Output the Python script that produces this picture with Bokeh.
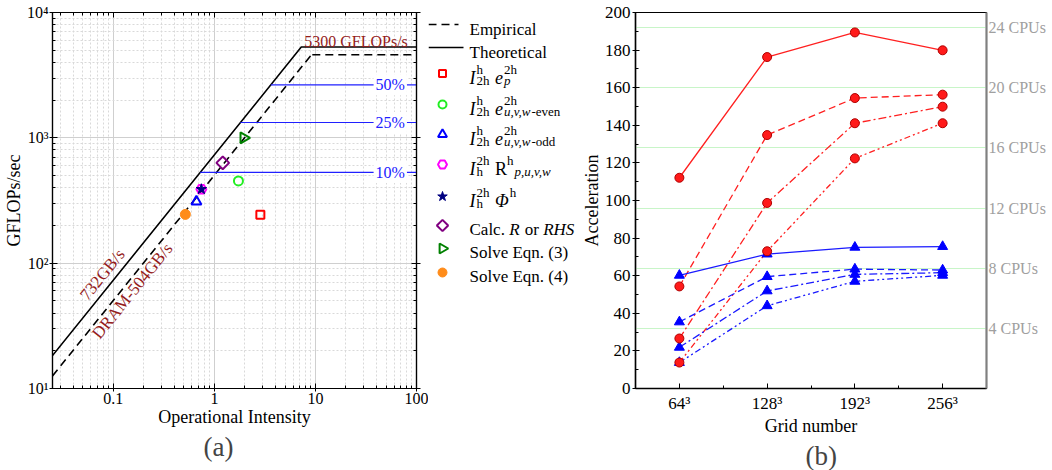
import math
from bokeh.plotting import figure
from bokeh.models import Range1d, FixedTicker, LogAxis, LinearAxis, Title, ColumnDataSource
from bokeh.layouts import row
from bokeh.embed import file_html
from bokeh.resources import INLINE
from bokeh.core.properties import value

SERIF = "Liberation Serif"
DARKRED = "#951c1c"

# ---------------- data: (a) roofline ----------------
theo_bw = 732.0        # GB/s
theo_peak = 5300.0     # GFLOPs/s
emp_bw = 504.0         # GB/s
emp_peak = 4600.0      # GFLOPs/s
oi_min, oi_max = 0.025, 100.0
frac_levels = [0.50, 0.25, 0.10]
frac_labels = ["50%", "25%", "10%"]
frac_label_x = 55.0

kernel_oi = [2.85, 1.73, 0.664, 0.743, 0.743, 1.21, 1.95, 0.516]
kernel_gflops = [243, 453, 310, 389, 389, 631, 1000, 245]
kernel_markers = ["square", "circle", "triangle", "hex", "star", "square", "triangle", "circle"]
kernel_colors = ["#ff0000", "#22ee22", "#0000ff", "#ff00ff", "#000080", "#800080", "#008000", "#ff8c1a"]
kernel_filled = [False, False, False, False, True, False, False, True]
kernel_angles = [0, 0, 0, 0, 0, math.pi / 4, -math.pi / 2, 0]
kernel_sizes = [8, 9, 10, 10, 11, 9, 11, 10]

xtick_vals = [0.1, 1, 10, 100]
xtick_text = ["0.1", "1", "10", "100"]
ytick_vals = [10, 100, 1000, 10000]
ytick_text = ["10\u00b9", "10\u00b2", "10\u00b3", "10\u2074"]

# ---------------- data: (b) acceleration ----------------
grid_labels = ["64\u00b3", "128\u00b3", "192\u00b3", "256\u00b3"]
grid_pos = [1, 2, 3, 4]
red_solid = [112.1, 176.3, 189.4, 179.9]
red_dash = [54.3, 134.8, 154.5, 156.3]
red_dashdot = [26.6, 98.7, 141.1, 149.9]
red_dashdotdot = [13.8, 73.0, 122.4, 141.1]
blue_solid = [60.2, 71.5, 75.1, 75.5]
blue_dash = [35.4, 59.5, 63.5, 63.0]
blue_dashdot = [21.9, 51.9, 60.7, 61.6]
blue_dashdotdot = [13.8, 44.0, 57.0, 60.2]
cpu_counts = [4, 8, 12, 16, 20, 24]
cpu_accel = [32, 64, 96, 128, 160, 192]
acc_ticks = list(range(0, 201, 20))

H = 470
TOP, BOT = 12, 82          # shared (row-aligned) top / bottom borders
# ================= figure (a) =================
FA_W = 428
BL, BR = 52, 12
pA = figure(width=FA_W, height=H, x_axis_type="log", y_axis_type="log",
            x_range=Range1d(oi_min, oi_max), y_range=Range1d(10, 10000),
            output_backend="svg", toolbar_location=None,
            min_border_left=BL, min_border_right=BR, min_border_top=TOP, min_border_bottom=BOT)
pA.outline_line_color = "black"
pA.outline_line_width = 1.2

def minors(lo_exp, hi_exp):
    return [m * 10 ** e for e in range(lo_exp, hi_exp) for m in range(2, 10)]

xt = FixedTicker(ticks=xtick_vals, minor_ticks=[v for v in minors(-2, 2) if v >= oi_min])
yt = FixedTicker(ticks=ytick_vals, minor_ticks=minors(1, 4))
pA.xaxis.ticker = xt
pA.yaxis.ticker = yt
pA.xaxis.major_label_overrides = {v: t for v, t in zip(xtick_vals, xtick_text)}
pA.yaxis.major_label_overrides = {v: t for v, t in zip(ytick_vals, ytick_text)}
pA.xgrid.ticker = xt
pA.ygrid.ticker = yt
for g in (pA.xgrid[0], pA.ygrid[0]):
    g.grid_line_color = "#cfcfcf"
    g.grid_line_width = 1
    g.minor_grid_line_color = "#d9d9d9"
    g.minor_grid_line_dash = "2 2"

for ax in (pA.xaxis[0], pA.yaxis[0]):
    ax.major_label_text_font = SERIF
    ax.major_label_text_font_size = "16px"
    ax.major_label_text_color = "black"
    ax.axis_label_text_font = SERIF
    ax.axis_label_text_font_size = "18px"
    ax.axis_label_text_font_style = "normal"
    ax.axis_label_text_color = "black"
    ax.axis_line_width = 1.2
    ax.major_tick_in = 5
    ax.major_tick_out = 3
    ax.minor_tick_in = 3
    ax.minor_tick_out = 0
    ax.major_label_standoff = 1
    ax.axis_label_standoff = 0
pA.xaxis.axis_label = "Operational Intensity"
pA.yaxis.axis_label = "GFLOPs/sec"

for ax, loc in ((LogAxis(ticker=yt), "right"), (LogAxis(ticker=xt), "above")):
    ax.major_label_text_color = None
    ax.major_label_text_font_size = "2px"
    ax.major_label_standoff = 0
    ax.major_tick_in = 5
    ax.major_tick_out = 4 if loc == "right" else 0
    ax.minor_tick_in = 3
    ax.minor_tick_out = 0
    ax.axis_line_width = 1.2
    pA.add_layout(ax, loc)

# rooflines
theo_ridge = theo_peak / theo_bw
emp_ridge = emp_peak / emp_bw
pA.line([oi_min, theo_ridge, oi_max], [theo_bw * oi_min, theo_peak, theo_peak],
        line_color="black", line_width=1.6)
pA.line([oi_min, emp_ridge], [emp_bw * oi_min, emp_peak],
        line_color="black", line_width=1.6, line_dash="8 5")
pA.line([emp_ridge * 1.02, oi_max], [emp_peak, emp_peak],
        line_color="black", line_width=1.6, line_dash="8 5")

for f, lab in zip(frac_levels, frac_labels):
    yv = theo_peak * f
    pA.line([yv / theo_bw, oi_max], [yv, yv], line_color="#2020ff", line_width=1.2)
    pA.text(x=[frac_label_x], y=[yv], text=[lab], text_align="center", text_baseline="middle",
            text_font=value(SERIF), text_font_size=value("16px"), text_color="#2020ff",
            background_fill_color="white", padding=2)

pA.text(x=[25.2], y=[theo_peak], text=["5300 GFLOPs/s"], text_align="center",
        text_baseline="alphabetic", y_offset=-6,
        text_font=value(SERIF), text_font_size=value("16px"), text_color=DARKRED)

fw = FA_W - BL - BR
fh = H - TOP - BOT
ang = math.atan2(fh / 3.0, fw / math.log10(oi_max / oi_min))
pA.text(x=[0.0778], y=[81], text=["732GB/s"], angle=ang, text_align="center",
        text_baseline="middle", text_font=value(SERIF), text_font_size=value("17px"),
        text_color=DARKRED)
pA.text(x=[0.154], y=[60], text=["DRAM-504GB/s"], angle=ang, text_align="center",
        text_baseline="middle", text_font=value(SERIF), text_font_size=value("17px"),
        text_color=DARKRED)

for i in range(len(kernel_oi)):
    c = kernel_colors[i]
    pA.scatter([kernel_oi[i]], [kernel_gflops[i]], marker=kernel_markers[i],
               size=kernel_sizes[i], angle=kernel_angles[i],
               line_color=c, line_width=2 if not kernel_filled[i] else 1,
               fill_color=c if kernel_filled[i] else None)

tA = Title(text="(a)", align="left", text_font=SERIF, text_font_size="27px",
           text_font_style="normal", offset=151, standoff=0)
pA.add_layout(tA, "below")

# ================= legend figure (coordinates = page pixels) =================
LG_W = 150
pL = figure(width=LG_W, height=H, x_range=Range1d(0, LG_W), y_range=Range1d(H - BOT, TOP),
            output_backend="svg", toolbar_location=None,
            min_border_left=0, min_border_right=0, min_border_top=TOP, min_border_bottom=BOT,
            x_axis_location=None, y_axis_location=None)
pL.outline_line_color = None
pL.xgrid.visible = False
pL.ygrid.visible = False

TX = 41
pL.line([0, 30], [24, 24], line_color="black", line_width=1.6, line_dash="8 5")
pL.line([0, 35], [47, 47], line_color="black", line_width=1.6)

row_y = [73, 104, 134, 164, 196, 225, 248, 272]
for i in range(len(kernel_oi)):
    c = kernel_colors[i]
    pL.scatter([14], [row_y[i]], marker=kernel_markers[i], size=kernel_sizes[i] - 1,
               angle=kernel_angles[i], line_color=c,
               line_width=2 if not kernel_filled[i] else 1,
               fill_color=c if kernel_filled[i] else None)

W_RG = {' ': 250, '2': 500, 'h': 500, 'e': 444, 'v': 500, 'n': 500, 'o': 500, 'd': 500,
        '-': 333, ',': 250, 'p': 500, 'u': 500, 'w': 722, 'R': 667, 'I': 333,
        'C': 667, 'a': 444, 'l': 278, 'c': 444, '.': 250, 'r': 333}
W_IT = {'I': 333, 'e': 444, 'p': 500, 'u': 500, ',': 250, 'v': 444, 'w': 667, 'R': 611,
        'H': 722, 'S': 500, '\u03a6': 760, 'h': 500}
SCRIPT = 13

def tw(s, size, it):
    t = W_IT if it else W_RG
    return sum(t.get(ch, 500) for ch in s) * size / 1000.0

pieces = []  # (x, y, text, size, italic)

def layout_row(spec, x0, yc, base):
    x = x0
    for el in spec:
        if el[0] == "gap":
            x += el[1] * base / 1000.0
        elif el[0] == "b":
            _, txt, it = el
            pieces.append((x, yc + 4, txt, base, it))
            x += tw(txt, base, it) + (1 if it else 0)
        else:
            _, sups, subs = el
            xs = x
            for txt, it in sups:
                pieces.append((xs, yc - 4, txt, SCRIPT, it))
                xs += tw(txt, SCRIPT, it)
            wsup = xs - x
            xs = x
            for txt, it in subs:
                pieces.append((xs, yc + 7, txt, SCRIPT, it))
                xs += tw(txt, SCRIPT, it)
            wsub = xs - x
            x += max(wsup, wsub) + 1

SP = ("gap", 250)
legend_rows = [
    [("b", "I", True), ("s", [("h", False)], [("2h", False)]), SP,
     ("b", "e", True), ("s", [("2h", False)], [("p", True)])],
    [("b", "I", True), ("s", [("h", False)], [("2h", False)]), SP,
     ("b", "e", True), ("s", [("2h", False)], [("u,v,w", True), ("-even", False)])],
    [("b", "I", True), ("s", [("h", False)], [("2h", False)]), SP,
     ("b", "e", True), ("s", [("2h", False)], [("u,v,w", True), ("-odd", False)])],
    [("b", "I", True), ("s", [("2h", False)], [("h", False)]), SP,
     ("b", "R", False), ("s", [("h", False)], []), ("s", [], [("p,u,v,w", True)])],
    [("b", "I", True), ("s", [("2h", False)], [("h", False)]), SP,
     ("b", "\u03a6", True), ("s", [("h", False)], [])],
    [("b", "Calc.", False), SP, ("b", "R", True), SP, ("b", "or", False), SP,
     ("b", "RHS", True)],
    [("b", "Solve Eqn. (3)", False)],
    [("b", "Solve Eqn. (4)", False)],
]
for i, spec in enumerate(legend_rows):
    layout_row(spec, TX, row_y[i], 18 if i < 5 else 17)
pieces.append((TX, 24 + 5, "Empirical", 17, False))
pieces.append((TX, 47 + 5, "Theoretical", 17, False))

groups = {}
for (x, y, t, s, it) in pieces:
    groups.setdefault((s, it), []).append((x, y, t))
for (s, it), items in groups.items():
    src = ColumnDataSource(dict(x=[a[0] for a in items], y=[a[1] for a in items],
                                text=[a[2] for a in items]))
    pL.text(x="x", y="y", text="text", source=src, text_align="left",
            text_baseline="alphabetic", text_font=value(SERIF),
            text_font_size=value(f"{s}px"), text_font_style="italic" if it else "normal",
            text_color="black")

# ================= figure (b) =================
FB_W = 474
pB = figure(width=FB_W, height=H, x_range=Range1d(0.5, 4.5), y_range=Range1d(0, 200),
            output_backend="svg", toolbar_location=None,
            min_border_left=52, min_border_right=66, min_border_top=TOP, min_border_bottom=BOT)
pB.outline_line_color = "black"
pB.outline_line_width = 1.2
pB.xaxis.ticker = FixedTicker(ticks=grid_pos, minor_ticks=[1.5, 2.5, 3.5])
pB.xaxis.major_label_overrides = {p: l for p, l in zip(grid_pos, grid_labels)}
pB.yaxis.ticker = FixedTicker(ticks=acc_ticks, minor_ticks=list(range(10, 200, 20)))
for ax in (pB.xaxis[0], pB.yaxis[0]):
    ax.major_label_text_font = SERIF
    ax.major_label_text_font_size = "17px"
    ax.major_label_text_color = "black"
    ax.axis_label_text_font = SERIF
    ax.axis_label_text_font_size = "18px"
    ax.axis_label_text_font_style = "normal"
    ax.axis_label_text_color = "black"
    ax.axis_line_width = 1.5
    ax.major_tick_in = 4
    ax.major_tick_out = 3
    ax.minor_tick_in = 3
    ax.minor_tick_out = 0
    ax.major_label_standoff = 2
    ax.axis_label_standoff = 0
pB.xaxis.major_tick_in = 5
pB.xaxis.major_tick_out = 0
pB.xaxis.major_label_standoff = 5
pB.xaxis.axis_label = "Grid number"
pB.yaxis.axis_label = "Acceleration"
pB.xgrid.visible = False
pB.ygrid.ticker = FixedTicker(ticks=cpu_accel)
pB.ygrid.grid_line_color = "#c8f5c8"
pB.ygrid.grid_line_width = 1

cpu_axis = LinearAxis(ticker=FixedTicker(ticks=cpu_accel),
                      major_label_overrides={a: f"{n} CPUs" for a, n in zip(cpu_accel, cpu_counts)})
cpu_axis.major_label_text_font = SERIF
cpu_axis.major_label_text_font_size = "16px"
cpu_axis.major_label_text_color = "#a0a0a0"
cpu_axis.axis_line_color = "#808080"
cpu_axis.axis_line_width = 2
cpu_axis.major_tick_line_color = None
cpu_axis.minor_tick_line_color = None
cpu_axis.major_tick_in = 0
cpu_axis.major_tick_out = 0
cpu_axis.minor_tick_in = 0
cpu_axis.minor_tick_out = 0
cpu_axis.major_label_standoff = 2
pB.add_layout(cpu_axis, "right")

dashes = ["solid", "7 4", "8 3 2 3", "6 3 2 3 2 3"]
for ys, d in zip([red_solid, red_dash, red_dashdot, red_dashdotdot], dashes):
    pB.line(grid_pos, ys, line_color="#ff2020", line_width=1.3, line_dash=d)
for ys, d in zip([blue_solid, blue_dash, blue_dashdot, blue_dashdotdot], dashes):
    pB.line(grid_pos, ys, line_color="#1a1aff", line_width=1.3, line_dash=d)
for ys in [blue_solid, blue_dash, blue_dashdot, blue_dashdotdot]:
    pB.scatter(grid_pos, ys, marker="triangle", size=10, fill_color="#0000ff", line_color="#0000ff")
for ys in [red_solid, red_dash, red_dashdot, red_dashdotdot]:
    pB.scatter(grid_pos, ys, marker="circle", size=9, fill_color="#ff1a1a", line_color="#b00000",
               line_width=1)

tB = Title(text="(b)", align="left", text_font=SERIF, text_font_size="27px",
           text_font_style="normal", offset=170, standoff=0)
pB.add_layout(tB, "below")

layout = row(pA, pL, pB)
open("out.html", "w").write(file_html(layout, INLINE))
